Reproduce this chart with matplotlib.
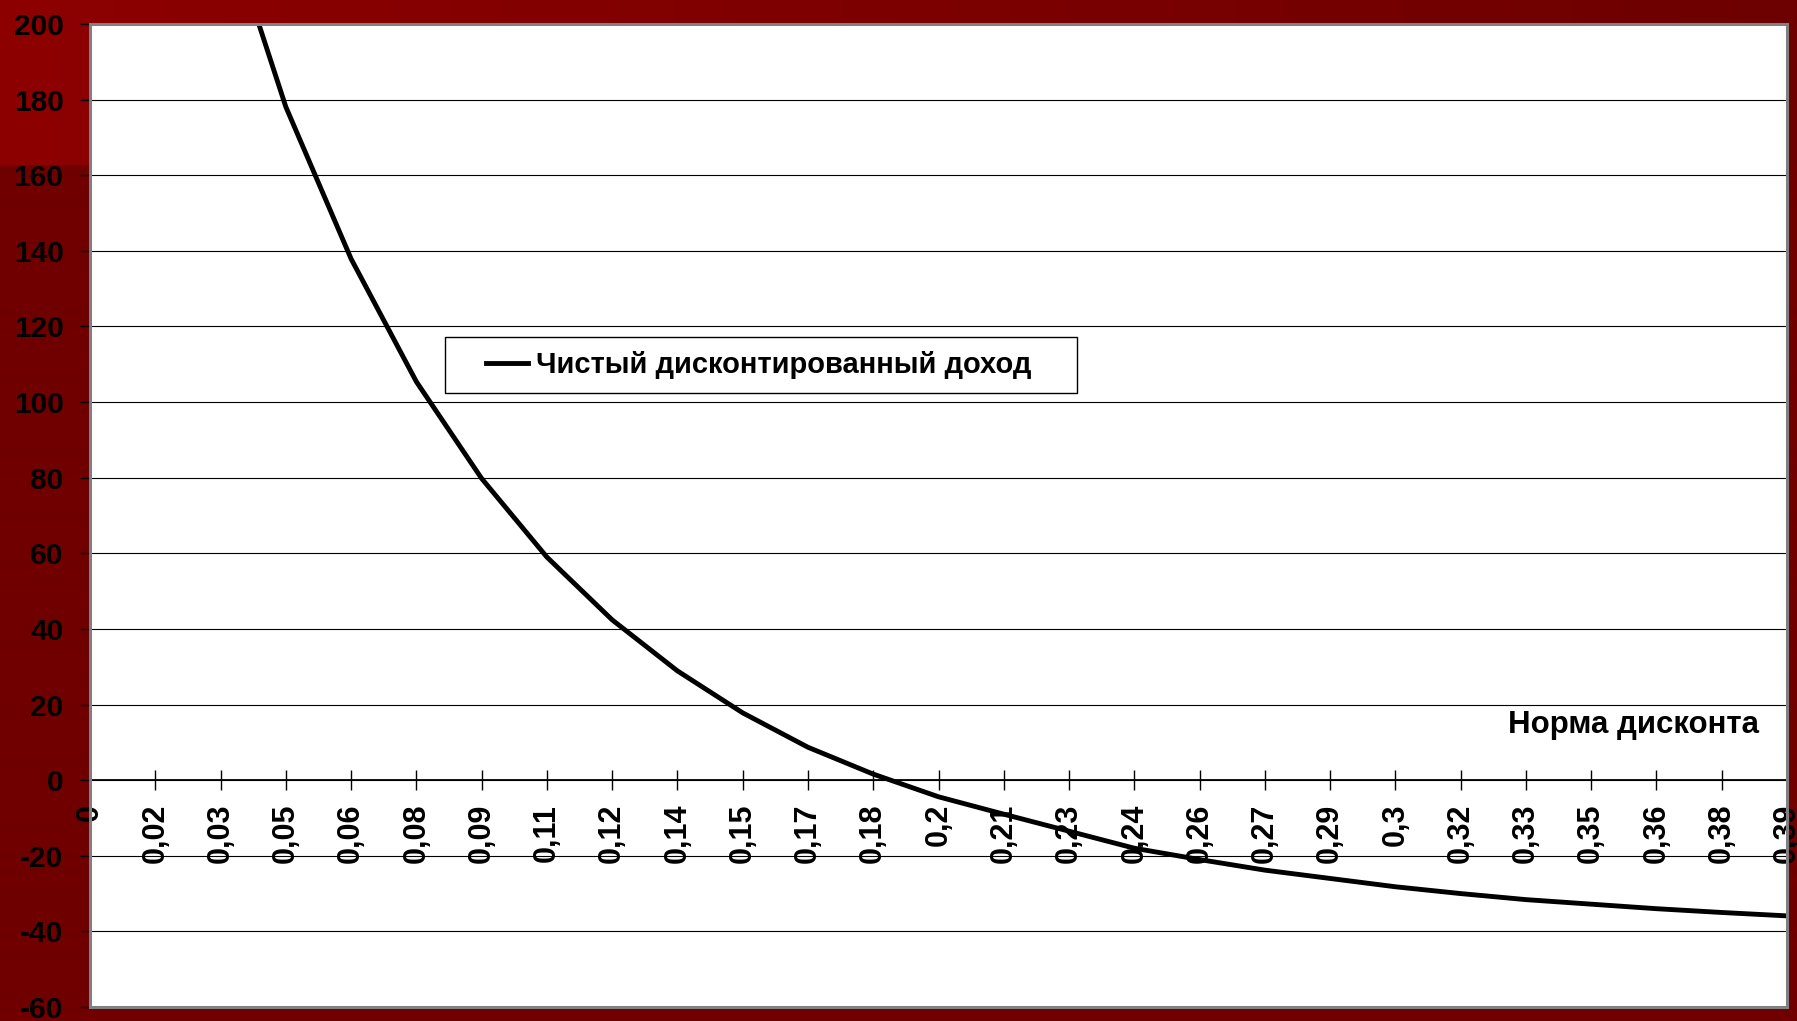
import numpy as np
import matplotlib
matplotlib.use('Agg')
import matplotlib.pyplot as plt
from matplotlib.patches import Rectangle

plt.rcParams['font.family'] = ['Liberation Sans', 'DejaVu Sans']
plt.rcParams['font.weight'] = 'bold'
plt.rcParams['axes.unicode_minus'] = False

# discount rate labels (category axis)
rate_labels = ["0", "0,02", "0,03", "0,05", "0,06", "0,08", "0,09", "0,11", "0,12",
               "0,14", "0,15", "0,17", "0,18", "0,2", "0,21", "0,23", "0,24", "0,26",
               "0,27", "0,29", "0,3", "0,32", "0,33", "0,35", "0,36", "0,38", "0,39"]
# net present value
npv = [387, 300, 231, 178.1, 137.9, 105.4, 79.8, 59.0, 42.4,
       28.9, 17.8, 8.7, 1.6, -4.4, -9.0, -13.5, -18.0, -21.0,
       -23.8, -26.0, -28.2, -30.0, -31.6, -32.8, -34.0, -35.0, -35.9]
y_ticks = list(range(-60, 201, 20))
series_name = "Чистый дисконтированный доход"
x_title = "Норма дисконта"

W, H = 1797, 1021
fig = plt.figure(figsize=(W / 100, H / 100), dpi=100)

# dark red slide background
bg = fig.add_axes([0, 0, 1, 1], zorder=-10)
img = np.zeros((H, W, 3))
img[:, :, 0] = 0x70 / 255
top = np.linspace(0x8d, 0x6d, W) / 255
img[:166, :, 0] = top
bg.imshow(img, aspect='auto', extent=(0, 1, 0, 1))
bg.axis('off')

ax = fig.add_axes([90 / W, (H - 1007) / H, 1697 / W, 983 / H])
ax.set_facecolor('white')
x = np.arange(len(rate_labels))
ax.plot(x, npv, color='black', lw=3.5, label=series_name, zorder=5)

ax.set_xlim(0, len(rate_labels) - 1)
ax.set_ylim(-60, 200)

for s in ['top', 'right', 'left']:
    ax.spines[s].set_visible(False)
ax.spines['bottom'].set_position(('data', 0))
ax.spines['bottom'].set_linewidth(1.3)

ax.set_xticks(x)
ax.set_xticklabels(rate_labels, rotation=90, fontsize=22, fontweight='bold', va='top')
ax.tick_params(axis='x', direction='inout', length=14, width=1, pad=10, color='black')

ax.set_yticks(y_ticks)
ax.set_yticklabels([str(v) for v in y_ticks], fontsize=21.5, fontweight='bold')
ax.tick_params(axis='y', direction='out', length=7, width=1, pad=12)

ax.yaxis.grid(True, color='black', lw=0.8)
ax.set_axisbelow(True)

# plot-area frame
ax.add_patch(Rectangle((0, 0), 1, 1, transform=ax.transAxes, fill=False,
                       edgecolor='#808080', lw=2.2, clip_on=False, zorder=10))

# legend box
ax.add_patch(Rectangle(((445 - 90) / 1697, 1 - (393 - 24) / 983), 632 / 1697, 56 / 983,
                       transform=ax.transAxes, facecolor='white', edgecolor='black',
                       lw=1, zorder=6))
leg = ax.legend(loc='center left', bbox_to_anchor=((486 - 90) / 1697, 1 - (365 - 24) / 983),
                frameon=False, borderpad=0, borderaxespad=0, handlelength=1.45,
                handletextpad=0.25, prop={'size': 21, 'weight': 'bold'})
leg.set_zorder(7)

ax.text((1759 - 90) / 1697, 1 - (733 - 24) / 983, x_title, transform=ax.transAxes,
        ha='right', va='baseline', fontsize=22.5, fontweight='bold')

fig.savefig('out.png', dpi=100)
